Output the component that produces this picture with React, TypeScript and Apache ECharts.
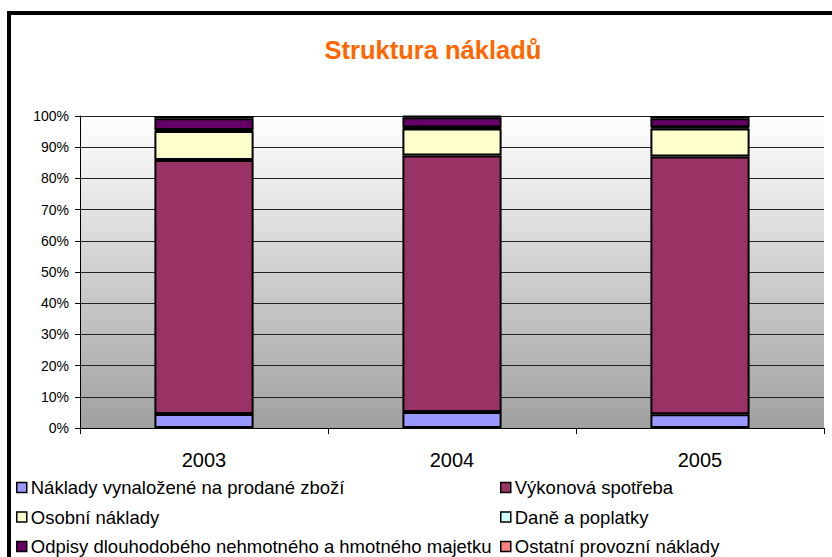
import React, { useEffect, useRef } from "react";
import * as echarts from "echarts";

const categories = ["2003", "2004", "2005"];
const seriesNames = [
  "Náklady vynaložené na prodané zboží",
  "Výkonová spotřeba",
  "Osobní náklady",
  "Daně a poplatky",
  "Odpisy dlouhodobého nehmotného a hmotného majetku",
  "Ostatní provozní náklady",
];
const seriesColors = ["#9999FF", "#993366", "#FFFFCC", "#CCFFFF", "#660066", "#FF8080"];
const nakladyZbozi = [4.5, 5.1, 4.4];
const vykonovaSpotreba = [81.4, 82.2, 82.6];
const osobniNaklady = [9.3, 8.7, 9.0];
const danePoplatky = [0.3, 0.3, 0.4];
const odpisy = [3.8, 3.3, 2.9];
const ostatniNaklady = [0.7, 0.4, 0.7];
const seriesValues = [nakladyZbozi, vykonovaSpotreba, osobniNaklady, danePoplatky, odpisy, ostatniNaklady];

const FONT = "'Liberation Sans', Arial, sans-serif";

export default function App() {
  const ref = useRef<HTMLDivElement>(null);
  useEffect(() => {
    if (!ref.current) return;
    const chart = echarts.init(ref.current, null, { renderer: "svg" });
    const legendStyle = (names: string[], left: number) => ({
      type: "plain",
      data: names.map((n) => ({
        name: n,
        itemStyle: { color: seriesColors[seriesNames.indexOf(n)], borderColor: "#000", borderWidth: 1.5 },
      })),
      orient: "vertical" as const,
      left,
      top: 478,
      width: 490,
      height: 120,
      padding: 0,
      icon: "rect",
      itemWidth: 10,
      itemHeight: 10,
      itemGap: 10.5,
      selectedMode: false,
      textStyle: { fontSize: 18.5, color: "#000", fontFamily: FONT, padding: [0, 0, 0, -1] },
    });
    chart.setOption({
      animation: false,
      backgroundColor: "#fff",
      textStyle: { fontFamily: FONT },
      title: {
        text: "Struktura nákladů",
        left: 428,
        textAlign: "center",
        top: 32,
        textStyle: { fontSize: 25.5, fontWeight: "bold", color: "#FF6600", fontFamily: FONT },
      },
      graphic: [
        {
          type: "rect",
          z: -10,
          shape: { x: 9, y: 13, width: 900, height: 600 },
          style: { fill: "none", stroke: "#000", lineWidth: 4 },
        },
      ],
      legend: [
        legendStyle([seriesNames[0], seriesNames[2], seriesNames[4]], 16),
        legendStyle([seriesNames[1], seriesNames[3], seriesNames[5]], 500),
      ],
      grid: {
        left: 80,
        right: 8,
        top: 116,
        bottom: 129,
        show: true,
        borderWidth: 0,
        backgroundColor: new echarts.graphic.LinearGradient(0, 0, 0, 1, [
          { offset: 0, color: "#ffffff" },
          { offset: 1, color: "#a0a0a0" },
        ]),
      },
      xAxis: {
        type: "category",
        data: categories,
        axisLine: { lineStyle: { color: "#000", width: 1 } },
        axisTick: { show: true, length: 6, lineStyle: { color: "#000" } },
        axisLabel: { fontSize: 20, color: "#000", margin: 22, fontFamily: FONT },
      },
      yAxis: {
        type: "value",
        min: 0,
        max: 100,
        interval: 10,
        axisLine: { show: true, lineStyle: { color: "#000", width: 1 } },
        axisTick: { show: true, length: 5, lineStyle: { color: "#000" } },
        axisLabel: { formatter: "{value}%", fontSize: 14, color: "#000", margin: 11, fontFamily: FONT },
        splitLine: { show: true, lineStyle: { color: "#222", width: 1 } },
      },
      series: seriesNames.map((name, i) => ({
        name,
        type: "bar",
        stack: "total",
        barWidth: "40%",
        data: seriesValues[i],
        itemStyle: { color: seriesColors[i], borderColor: "#000", borderWidth: 2 },
      })),
    });
    return () => chart.dispose();
  }, []);
  return (
    <div
      ref={ref}
      style={{ position: "fixed", left: 0, top: 0, width: 832, height: 557 }}
    />
  );
}
